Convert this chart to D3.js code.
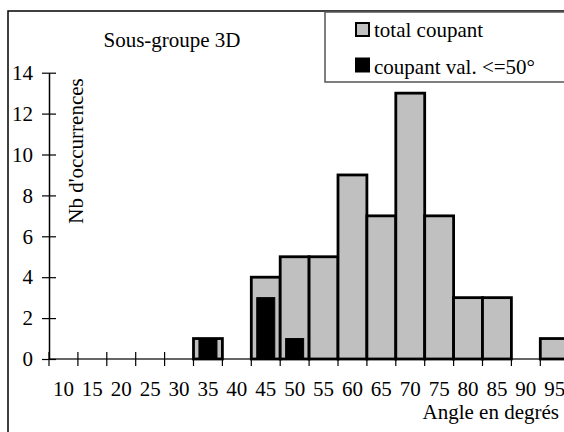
<!DOCTYPE html>
<html>
<head>
<meta charset="utf-8">
<script src="https://cdn.jsdelivr.net/npm/d3@7"></script>
<style>
  body { margin: 0; background: #fff; }
</style>
</head>
<body>
<script>
// angle classes (degrees)
var categories = [10, 15, 20, 25, 30, 35, 40, 45, 50, 55, 60, 65, 70, 75, 80, 85, 90, 95];
// total coupant
var totalCoupant = [0, 0, 0, 0, 0, 1, 0, 4, 5, 5, 9, 7, 13, 7, 3, 3, 0, 1];
// coupant val. <=50°
var coupantVal50 = [0, 0, 0, 0, 0, 1, 0, 3, 1, 0, 0, 0, 0, 0, 0, 0, 0, 0];
var yTicks = [0, 2, 4, 6, 8, 10, 12, 14];

var width = 564;
var height = 432;
var fontSize = 21;
var font = '"Liberation Serif", "Times New Roman", Times, serif';

var svg = d3.select('body').append('svg')
	.attr('width', width)
	.attr('height', height)
	.attr('font-family', font);

// outer frame
svg.append('rect')
	.attr('x', 8)
	.attr('y', 11)
	.attr('width', 700)
	.attr('height', 600)
	.attr('fill', '#fff')
	.attr('stroke', '#000')
	.attr('stroke-width', 1.5);

var x = d3.scaleBand()
	.domain(categories)
	.range([49, 49 + categories.length * 28.9])
	.padding(0);

var y = d3.scaleLinear()
	.domain([0, 14])
	.range([359, 72.7]);

// x axis line + boundary ticks
svg.append('line')
	.attr('x1', 49).attr('x2', 620)
	.attr('y1', y(0)).attr('y2', y(0))
	.attr('stroke', '#333')
	.attr('stroke-width', 1.5);

var bounds = categories.map(function(c) { return x(c); });
svg.selectAll('.xtick')
	.data(bounds)
	.enter().append('line')
		.attr('class', 'xtick')
		.attr('x1', function(d) { return d; })
		.attr('x2', function(d) { return d; })
		.attr('y1', y(0) - 7)
		.attr('y2', y(0) + 7)
		.attr('stroke', '#000')
		.attr('stroke-width', 1.2);

// x labels (band centers)
var xAxis = svg.append('g')
	.attr('transform', 'translate(0,' + y(0) + ')')
	.call(d3.axisBottom(x).tickSize(0).tickPadding(0));
xAxis.attr('font-family', font).attr('font-size', fontSize);
xAxis.select('.domain').remove();
xAxis.selectAll('text')
	.attr('y', 37)
	.attr('dy', null)
	.attr('fill', '#000');

// bars - total
svg.selectAll('.bar')
	.data(categories.filter(function(c, i) { return totalCoupant[i] > 0; }))
	.enter().append('rect')
		.attr('class', 'bar')
		.attr('x', function(d) { return x(d); })
		.attr('width', x.bandwidth())
		.attr('y', function(d) { return y(totalCoupant[categories.indexOf(d)]); })
		.attr('height', function(d) { return y(0) - y(totalCoupant[categories.indexOf(d)]); })
		.attr('fill', '#c0c0c0')
		.attr('stroke', '#000')
		.attr('stroke-width', 2.8);

// bars - val <= 50
var inner = 18;
svg.selectAll('.bar2')
	.data(categories.filter(function(c, i) { return coupantVal50[i] > 0; }))
	.enter().append('rect')
		.attr('class', 'bar2')
		.attr('x', function(d) { return x(d) + (x.bandwidth() - inner) / 2; })
		.attr('width', inner)
		.attr('y', function(d) { return y(coupantVal50[categories.indexOf(d)]); })
		.attr('height', function(d) { return y(0) - y(coupantVal50[categories.indexOf(d)]); })
		.attr('fill', '#000')
		.attr('stroke', '#000')
		.attr('stroke-width', 1);

// y axis
var yAxis = svg.append('g')
	.attr('transform', 'translate(49,0)')
	.call(d3.axisLeft(y).tickValues(yTicks).tickSize(7).tickPadding(9).tickSizeOuter(0));
yAxis.attr('font-family', font).attr('font-size', fontSize);
yAxis.select('.domain')
	.attr('stroke', '#000')
	.attr('stroke-width', 1.5);
yAxis.selectAll('.tick line')
	.attr('x1', 7)
	.attr('stroke-width', 1.2);
yAxis.selectAll('text').attr('fill', '#000');

// y label
svg.append('text')
	.attr('transform', 'translate(83,151) rotate(-90)')
	.attr('text-anchor', 'middle')
	.attr('font-size', fontSize)
	.text("Nb d'occurrences");

// x label
svg.append('text')
	.attr('x', 559)
	.attr('y', 419)
	.attr('text-anchor', 'end')
	.attr('font-size', fontSize)
	.text('Angle en degrés');

// title
svg.append('text')
	.attr('x', 172)
	.attr('y', 47)
	.attr('text-anchor', 'middle')
	.attr('font-size', fontSize)
	.text('Sous-groupe 3D');

// legend
var legend = svg.append('g');
legend.append('rect')
	.attr('x', 325)
	.attr('y', 12)
	.attr('width', 300)
	.attr('height', 70)
	.attr('fill', '#fff')
	.attr('stroke', '#555')
	.attr('stroke-width', 1.5);

var legendItems = ['total coupant', 'coupant val. <=50°'];
var legendFill = ['#c0c0c0', '#000'];
legend.selectAll('.lsq')
	.data(legendItems)
	.enter().append('rect')
		.attr('class', 'lsq')
		.attr('x', 356)
		.attr('y', function(d, i) { return 23 + i * 35.5; })
		.attr('width', 13)
		.attr('height', 13)
		.attr('fill', function(d, i) { return legendFill[i]; })
		.attr('stroke', '#000')
		.attr('stroke-width', 2);
legend.selectAll('.ltxt')
	.data(legendItems)
	.enter().append('text')
		.attr('class', 'ltxt')
		.attr('x', 374)
		.attr('y', function(d, i) { return 37 + i * 37; })
		.attr('font-size', fontSize)
		.text(function(d) { return d; });
</script>
</body>
</html>
